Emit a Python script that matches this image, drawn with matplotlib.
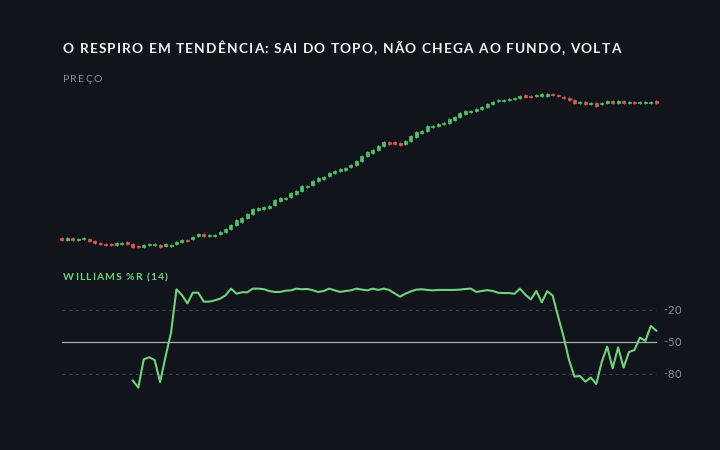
import numpy as np
import matplotlib
matplotlib.use("Agg")
import matplotlib.pyplot as plt

# Price candles (arbitrary price units)
opens = [107.2, 105.4, 107.1, 105.5, 105.7, 106.3, 104.2, 101.9, 101.5, 101.2,
         100.4, 100.9, 103.5, 100.9, 98.9, 98.5, 99.7, 99.7, 100.1, 99.2,
         98.9, 101.1, 103.5, 105.3, 106.3, 109.0, 110.8, 108.9, 109.1, 110.7,
         113.0, 115.7, 120.0, 123.3, 126.7, 131.0, 135.3, 136.3, 137.3, 140.0,
         144.4, 145.6, 147.7, 151.4, 154.0, 158.0, 159.7, 164.0, 166.3, 168.6,
         172.0, 173.7, 175.3, 177.7, 180.3, 184.4, 189.0, 192.0, 195.3, 198.7,
         202.8, 202.7, 202.3, 200.6, 204.0, 208.0, 211.7, 214.4, 217.9, 219.3,
         220.6, 222.3, 225.0, 227.7, 231.0, 232.9, 234.0, 235.7, 238.5, 241.1,
         243.9, 243.7, 244.9, 245.9, 247.3, 250.1, 249.3, 248.9, 249.2, 249.3,
         251.5, 250.5, 248.5, 247.0, 245.0, 242.1, 243.0, 241.1, 242.2, 240.7,
         242.5, 244.3, 242.4, 244.2, 241.7, 242.9, 241.7, 242.1, 242.1, 243.8]
closes = [104.8, 106.6, 105.5, 106.5, 106.9, 104.3, 101.8, 100.7, 100.5, 100.2,
          101.6, 102.5, 101.1, 98.5, 97.7, 100.1, 100.9, 100.9, 98.5, 100.8,
          100.5, 103.5, 105.1, 104.1, 108.3, 111.0, 109.2, 110.1, 110.3, 113.3,
          116.4, 120.3, 124.6, 127.3, 131.3, 135.6, 136.7, 137.7, 139.3, 144.6,
          147.0, 147.0, 151.7, 154.0, 158.6, 159.4, 164.3, 167.4, 168.3, 172.0,
          174.0, 175.7, 177.3, 180.3, 184.3, 189.0, 193.0, 195.4, 199.3, 202.7,
          201.2, 200.7, 199.7, 204.0, 208.6, 212.6, 214.3, 219.0, 219.5, 221.3,
          222.0, 225.7, 227.6, 231.7, 233.6, 234.5, 235.6, 238.3, 241.5, 243.5,
          245.5, 244.9, 246.5, 247.5, 249.3, 248.5, 248.1, 250.5, 250.8, 251.3,
          249.9, 248.9, 246.9, 245.0, 242.4, 243.3, 241.0, 242.3, 239.2, 241.9,
          244.1, 242.3, 243.6, 241.8, 242.9, 241.7, 242.9, 243.3, 243.3, 242.2]
highs = [108.2, 107.6, 108.1, 107.5, 107.9, 107.3, 105.2, 102.9, 102.5, 102.2,
         102.6, 103.5, 104.5, 101.9, 99.9, 101.1, 101.9, 101.9, 101.1, 101.8,
         101.5, 104.5, 106.1, 106.3, 109.3, 112.0, 111.8, 111.1, 111.3, 114.3,
         117.4, 121.3, 125.6, 128.3, 132.3, 136.6, 137.7, 138.7, 140.3, 145.6,
         148.0, 148.0, 152.7, 155.0, 159.6, 160.4, 165.3, 168.4, 169.3, 173.0,
         175.0, 176.7, 178.3, 181.3, 185.3, 190.0, 194.0, 196.4, 200.3, 203.7,
         203.8, 203.7, 203.3, 205.0, 209.6, 213.6, 215.3, 220.0, 220.5, 222.3,
         223.0, 226.7, 228.6, 232.7, 234.6, 235.5, 236.6, 239.3, 242.5, 244.5,
         246.5, 245.9, 247.5, 248.5, 250.3, 251.1, 250.3, 251.5, 251.8, 252.3,
         252.5, 251.5, 249.5, 248.0, 246.0, 244.3, 244.0, 243.3, 243.2, 242.9,
         245.1, 245.3, 244.6, 245.2, 243.9, 243.9, 243.9, 244.3, 244.3, 244.8]
lows = [103.8, 104.4, 104.5, 104.5, 104.7, 103.3, 100.8, 99.7, 99.5, 99.2,
        99.4, 99.9, 100.1, 97.5, 96.7, 97.5, 98.7, 98.7, 97.5, 98.2,
        97.9, 100.1, 102.5, 103.1, 105.3, 108.0, 108.2, 107.9, 108.1, 109.7,
        112.0, 114.7, 119.0, 122.3, 125.7, 130.0, 134.3, 135.3, 136.3, 139.0,
        143.4, 144.6, 146.7, 150.4, 153.0, 157.0, 158.7, 163.0, 165.3, 167.6,
        171.0, 172.7, 174.3, 176.7, 179.3, 183.4, 188.0, 191.0, 194.3, 197.7,
        200.2, 199.7, 198.7, 199.6, 203.0, 207.0, 210.7, 213.4, 216.9, 218.3,
        219.6, 221.3, 224.0, 226.7, 230.0, 231.9, 233.0, 234.7, 237.5, 240.1,
        242.9, 242.7, 243.9, 244.9, 246.3, 247.5, 247.1, 247.9, 248.2, 248.3,
        248.9, 247.9, 245.9, 244.0, 241.4, 241.1, 240.0, 240.1, 238.2, 239.7,
        241.5, 241.3, 241.4, 240.8, 240.7, 240.7, 240.7, 241.1, 241.1, 241.2]

# Williams %R (14), starts at candle 13
wr_start = 13
williams = [-86.2, -92.8, -66.2, -64.4, -66.9, -87.5, -63.7, -41.2, -0.6, -6.0,
            -13.8, -3.8, -3.8, -12.2, -12.2, -11.0, -9.4, -6.3, 0.0, -4.7,
            -3.4, -3.4, 0.0, 0.0, -0.5, -2.2, -3.1, -3.1, -1.9, -1.6,
            0.0, -0.6, -0.3, -1.5, -3.1, -2.2, 0.0, -1.5, -3.1, -2.2,
            -1.6, 0.0, -0.9, -1.6, 0.0, -1.2, 0.0, -1.2, -4.4, -7.5,
            -4.7, -2.5, -0.9, -0.6, -1.2, -1.6, -1.2, -1.2, -1.2, -1.2,
            -0.9, -0.3, 0.0, -3.1, -2.2, -1.4, -2.2, -3.8, -4.1, -4.1,
            -4.8, 0.0, -5.8, -10.0, -2.2, -12.8, -2.4, -6.5, -26.2, -45.0,
            -66.9, -82.5, -81.9, -87.2, -83.4, -89.4, -68.7, -54.4, -74.7, -55.0,
            -74.0, -59.4, -57.5, -45.9, -49.0, -35.0, -39.4]
wr_levels = [-20, -50, -80]
wr_labels = ["-20", "-50", "-80"]

BG = "#11151b"
UP = "#4fc46a"
DOWN = "#dc5a50"
LINE = "#6fd27c"
MUTED = "#8b9099"

plt.rcParams['font.family'] = ['Lato', 'DejaVu Sans']

fig = plt.figure(figsize=(7.2, 4.5), dpi=100)
fig.patch.set_facecolor(BG)
renderer = fig.canvas.get_renderer()


def spaced_text(x_px, y_px, s, track, **kw):
    # letter-spaced text, positions in pixels from top-left
    ref = fig.text(0, 0, "|", **kw)
    w_bar = ref.get_window_extent(renderer).width
    ref.remove()
    for i, ch in enumerate(s):
        if ch == " ":
            continue
        if i:
            t = fig.text(0, 0, s[:i] + "|", **kw)
            w = t.get_window_extent(renderer).width - w_bar
            t.remove()
        else:
            w = 0
        fig.text((x_px + w + i * track) / 720, 1 - y_px / 450, ch,
                 va='center', ha='left', **kw)


x = np.arange(len(closes))
x_lim = (-1.28, 110.6)

# price panel
ax1 = fig.add_axes([55 / 720, 1 - 252 / 450, 610 / 720, 162 / 450])
ax1.set_facecolor(BG)
cols = [UP if c >= o else DOWN for o, c in zip(opens, closes)]
ax1.vlines(x, lows, highs, colors=cols, linewidth=0.9)
bottoms = [min(o, c) for o, c in zip(opens, closes)]
heights = [abs(c - o) for o, c in zip(opens, closes)]
ax1.bar(x, heights, bottom=bottoms, width=0.55, color=cols, linewidth=0.5,
        edgecolor=cols)
ax1.set_xlim(*x_lim)
ax1.set_ylim(93, 255)
ax1.axis('off')

# williams panel
ax2 = fig.add_axes([55 / 720, 1 - 400 / 450, 610 / 720, 117 / 450])
ax2.set_facecolor(BG)
xr = np.arange(wr_start, wr_start + len(williams))
x_end = len(closes) - 1
for lv, lab in zip(wr_levels, wr_labels):
    if lv == -50:
        ax2.plot([0, x_end], [lv, lv], color="#a7abb2", linewidth=0.9, zorder=1)
    else:
        ax2.plot([0, x_end], [lv, lv], color="#3b4048", linewidth=0.8,
                 linestyle=(0, (3, 3)), zorder=1)
ax2.plot(xr, williams, color=LINE, linewidth=1.5, zorder=3,
         solid_joinstyle='round')
ax2.set_xlim(*x_lim)
ax2.set_ylim(-104.4, 5.3)
ax2.axis('off')

for lv, lab in zip(wr_levels, wr_labels):
    y_px = 288.67 - 1.0667 * lv
    spaced_text(663, y_px, lab, 0.4, color=MUTED, fontsize=8)

spaced_text(63, 49, "O RESPIRO EM TENDÊNCIA: SAI DO TOPO, NÃO CHEGA AO FUNDO, VOLTA",
            1.15, color="#f2f2f2", fontsize=9.8, fontweight='bold')
spaced_text(63, 80, "PREÇO", 1.2, color=MUTED, fontsize=7.5)
spaced_text(63, 278, "WILLIAMS %R (14)", 1.05, color=LINE, fontsize=7.5,
            fontweight='bold')

fig.savefig("out.png", dpi=100, facecolor=BG)
plt.close(fig)
